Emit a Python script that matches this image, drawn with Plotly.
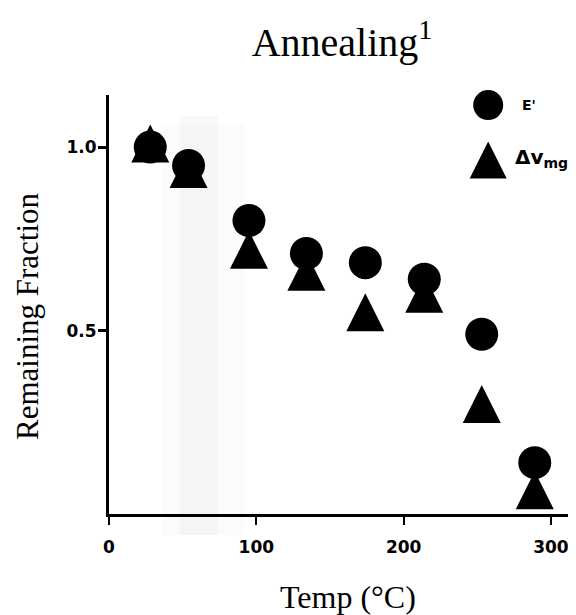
import plotly.graph_objects as go

# ---- data ----
temps = [28, 54, 95, 134, 174, 214, 253, 289]
e_prime = [1.00, 0.95, 0.80, 0.71, 0.685, 0.64, 0.49, 0.14]
delta_v = [1.01, 0.94, 0.72, 0.66, 0.55, 0.60, 0.30, 0.065]

x_ticks = [0, 100, 200, 300]
x_tick_labels = ["0", "100", "200", "300"]
y_ticks = [0.5, 1.0]
y_tick_labels = ["0.5", "1.0"]

legend_labels = ["E'", "\u0394v<sub>mg</sub>"]

title_text = "Annealing<sup>1</sup>"
x_title = "Temp (\u00b0C)"
y_title = "Remaining Fraction"

# page body adds an 8px margin, so the figure is 8px smaller and shifted
OFF = 8
W, H = 576 - OFF, 615 - OFF
ML, MR, MT = 109 - OFF, 0, 95 - OFF
MB = H - (514 - OFF)
PW, PH = W - ML - MR, H - MT - MB

CIRCLE_SIZE = 33
TRI_SIZE = 38

tick_font = dict(family="DejaVu Sans", size=17, color="black", weight="bold")
serif = "Liberation Serif"

fig = go.Figure()

# faint stippled band
fig.add_shape(type="rect", xref="x", yref="paper", x0=36, x1=92, y0=-0.05, y1=0.93,
              fillcolor="rgba(0,0,0,0.015)", line=dict(width=0), layer="below")
fig.add_shape(type="rect", xref="x", yref="paper", x0=48, x1=74, y0=-0.05, y1=0.95,
              fillcolor="rgba(0,0,0,0.022)", line=dict(width=0), layer="below")

# E' circles
fig.add_trace(go.Scatter(
    x=temps, y=e_prime, mode="markers", name=legend_labels[0],
    marker=dict(symbol="circle", size=CIRCLE_SIZE, color="black", line=dict(width=0)),
    showlegend=False, cliponaxis=False,
))
# delta V triangles (upright, roughly equilateral)
fig.add_trace(go.Scatter(
    x=temps, y=delta_v, mode="markers", name=legend_labels[1],
    marker=dict(symbol="arrow-down", size=TRI_SIZE, angle=180, standoff=TRI_SIZE / 2,
                color="black", line=dict(width=0)),
    showlegend=False, cliponaxis=False,
))

# custom legend on helper axes overlaying the plot area ([0,1] both ways)
leg_x = [0.812, 0.812]
leg_y = [0.976, 0.845]
fig.add_trace(go.Scatter(
    x=leg_x[:1], y=leg_y[:1], xaxis="x2", yaxis="y2", mode="markers",
    marker=dict(symbol="circle", size=30, color="black", line=dict(width=0)),
    showlegend=False, hoverinfo="skip", cliponaxis=False,
))
fig.add_trace(go.Scatter(
    x=leg_x[1:], y=leg_y[1:], xaxis="x2", yaxis="y2", mode="markers",
    marker=dict(symbol="arrow-down", size=37, angle=180, standoff=18.5,
                color="black", line=dict(width=0)),
    showlegend=False, hoverinfo="skip", cliponaxis=False,
))

annotations = [
    dict(text=legend_labels[0], xref="paper", yref="paper", x=0.88, y=0.976,
         xanchor="left", yanchor="middle", showarrow=False,
         font=dict(family="DejaVu Sans", size=14, color="black", weight="bold")),
    dict(text=legend_labels[1], xref="paper", yref="paper", x=0.866, y=0.85,
         xanchor="left", yanchor="middle", showarrow=False,
         font=dict(family="DejaVu Sans", size=20, color="black", weight="bold")),
    dict(text=y_title, xref="paper", yref="paper", x=-(109 - 27) / PW, y=(514 - 316) / PH,
         xanchor="center", yanchor="middle", textangle=-90, showarrow=False,
         font=dict(family=serif, size=31, color="black")),
    dict(text=x_title, xref="paper", yref="paper", x=(348 - 109) / PW, y=-(597 - 514) / PH,
         xanchor="center", yanchor="middle", showarrow=False,
         font=dict(family=serif, size=32, color="black")),
]

fig.update_layout(
    width=W, height=H,
    margin=dict(l=ML, r=MR, t=MT, b=MB, autoexpand=False),
    paper_bgcolor="white", plot_bgcolor="rgba(0,0,0,0)",
    title=dict(text=title_text, x=(342 - OFF) / W, xanchor="center", y=1 - (42 - OFF) / H,
               yanchor="middle", font=dict(family=serif, size=40, color="black")),
    showlegend=False,
    annotations=annotations,
    xaxis=dict(range=[0, 317], tickmode="array", tickvals=x_ticks, ticktext=x_tick_labels,
               ticks="outside", ticklen=8, tickwidth=2, tickcolor="black",
               showline=True, linewidth=3, linecolor="black", mirror=False, automargin=False,
               showgrid=False, zeroline=False, tickfont=tick_font, ticklabelstandoff=8),
    yaxis=dict(range=[0, 1.142], tickmode="array", tickvals=y_ticks, ticktext=y_tick_labels,
               ticks="outside", ticklen=8, tickwidth=3, tickcolor="black",
               showline=True, linewidth=3, linecolor="black", mirror=False, automargin=False,
               showgrid=False, zeroline=False, tickfont=tick_font, ticklabelstandoff=-2),
    xaxis2=dict(overlaying="x", range=[0, 1], visible=False, anchor="y2", fixedrange=True),
    yaxis2=dict(overlaying="y", range=[0, 1], visible=False, anchor="x2", fixedrange=True),
)

fig.write_html("out.html")
